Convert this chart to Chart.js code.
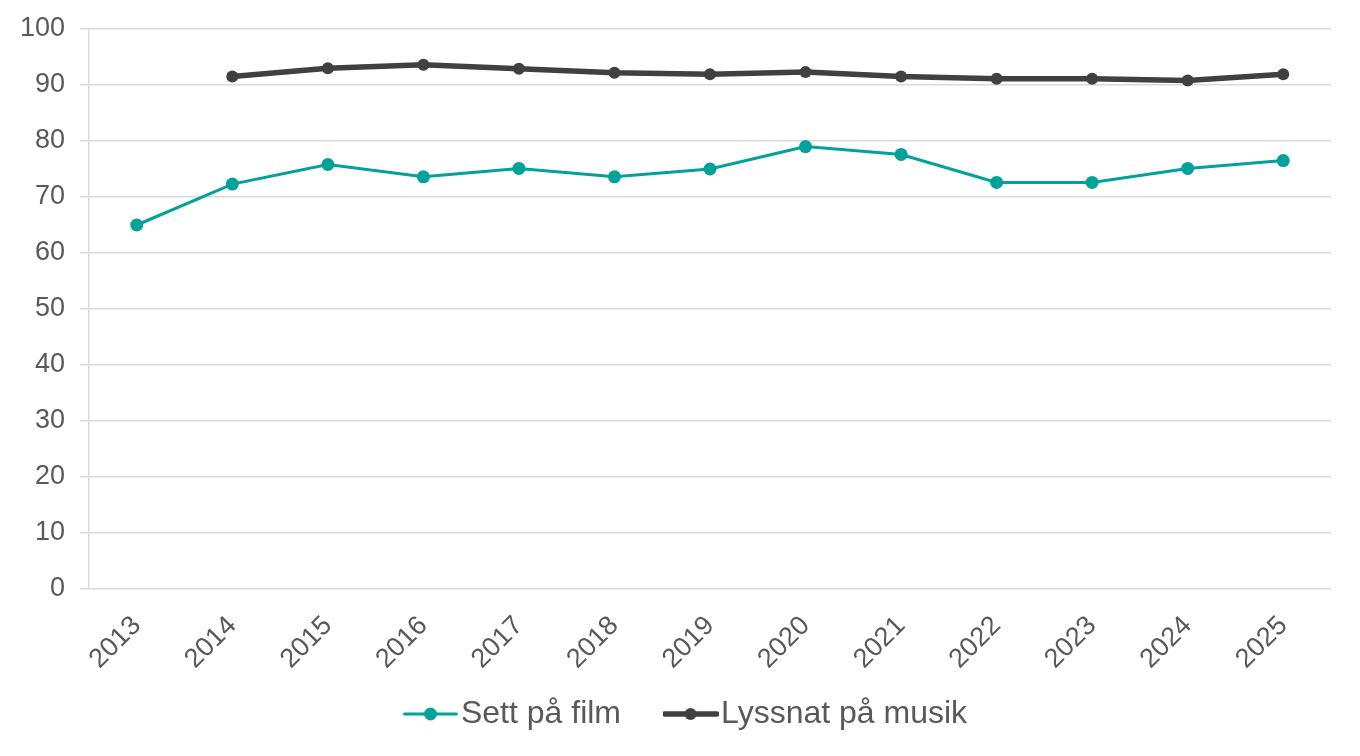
<!DOCTYPE html>
<html>
<head>
<meta charset="utf-8">
<script src="https://cdn.jsdelivr.net/npm/chart.js@4/dist/chart.umd.min.js"></script>
<style>
  html, body { margin: 0; padding: 0; background: #ffffff; }
  #wrap { width: 1360px; height: 756px; }
</style>
</head>
<body>
<div id="wrap"><canvas id="chart"></canvas></div>
<script>
// Data
const years = ['2013', '2014', '2015', '2016', '2017', '2018', '2019', '2020', '2021', '2022', '2023', '2024', '2025'];
const film = [65.0, 72.3, 75.8, 73.6, 75.1, 73.6, 75.0, 79.0, 77.6, 72.6, 72.6, 75.1, 76.5];
const music = [null, 91.5, 93.0, 93.6, 92.9, 92.2, 91.9, 92.3, 91.5, 91.1, 91.1, 90.8, 91.9];
const seriesNames = ['Sett på film', 'Lyssnat på musik'];

const TEAL = '#00A29A';
const DARK = '#404040';
const TEXT = '#595959';
const GRID = '#d9d9d9';
const FONT = "'Liberation Sans', Arial, sans-serif";

// Legend marker: line with a dot in the middle
function legendMarker(color, lineWidth, radius) {
  const c = document.createElement('canvas');
  c.width = 56;
  c.height = 16;
  const ctx = c.getContext('2d');
  ctx.strokeStyle = color;
  ctx.lineWidth = lineWidth;
  ctx.lineCap = 'round';
  ctx.beginPath();
  ctx.moveTo(2, 8);
  ctx.lineTo(54, 8);
  ctx.stroke();
  ctx.fillStyle = color;
  ctx.beginPath();
  ctx.arc(28, 8, radius, 0, Math.PI * 2);
  ctx.fill();
  return c;
}
const markers = [legendMarker(TEAL, 3, 6.5), legendMarker(DARK, 5.5, 6)];

// Nudge the legend block into place (it overlaps the x label area)
const legendNudge = {
  id: 'legendNudge',
  afterLayout(chart) {
    const lg = chart.legend;
    if (!lg) return;
    lg.left += 26;
    lg.right += 26;
    lg.top -= 28;
    lg.bottom -= 28;
  }
};

const ctx = document.getElementById('chart').getContext('2d');
new Chart(ctx, {
  type: 'line',
  data: {
    labels: years,
    datasets: [
      {
        label: seriesNames[0],
        data: film,
        borderColor: TEAL,
        backgroundColor: TEAL,
        borderWidth: 3,
        pointRadius: 6.5,
        pointBorderWidth: 0,
        pointBackgroundColor: TEAL,
        tension: 0
      },
      {
        label: seriesNames[1],
        data: music,
        borderColor: DARK,
        backgroundColor: DARK,
        borderWidth: 5.5,
        pointRadius: 6,
        pointBorderWidth: 0,
        pointBackgroundColor: DARK,
        tension: 0
      }
    ]
  },
  plugins: [legendNudge],
  options: {
    responsive: true,
    maintainAspectRatio: false,
    animation: false,
    layout: {
      padding: { left: 0, right: 29, top: 29, bottom: -12 }
    },
    scales: {
      x: {
        offset: true,
        grid: { display: false, drawTicks: false },
        border: { display: false },
        ticks: {
          color: TEXT,
          font: { family: FONT, size: 27 },
          maxRotation: 45,
          minRotation: 45,
          autoSkip: false,
          padding: 21
        },
        afterFit: (scale) => { scale.height = 82; }
      },
      y: {
        min: 0,
        max: 100,
        grid: { color: GRID, lineWidth: 1.5, tickLength: 9 },
        border: { display: true, color: GRID, width: 1.5 },
        ticks: {
          stepSize: 10,
          color: TEXT,
          font: { family: FONT, size: 27, lineHeight: 1 },
          padding: 15
        },
        afterFit: (scale) => { scale.width = 89; }
      }
    },
    plugins: {
      tooltip: { enabled: false },
      legend: {
        position: 'bottom',
        labels: {
          color: TEXT,
          font: { family: FONT, size: 32 },
          usePointStyle: true,
          pointStyleWidth: 29,
          padding: 55,
          generateLabels: (chart) => {
            const items = Chart.defaults.plugins.legend.labels.generateLabels(chart);
            return items.map((item, i) => {
              item.pointStyle = markers[i];
              return item;
            });
          }
        }
      }
    }
  }
});
</script>
</body>
</html>
